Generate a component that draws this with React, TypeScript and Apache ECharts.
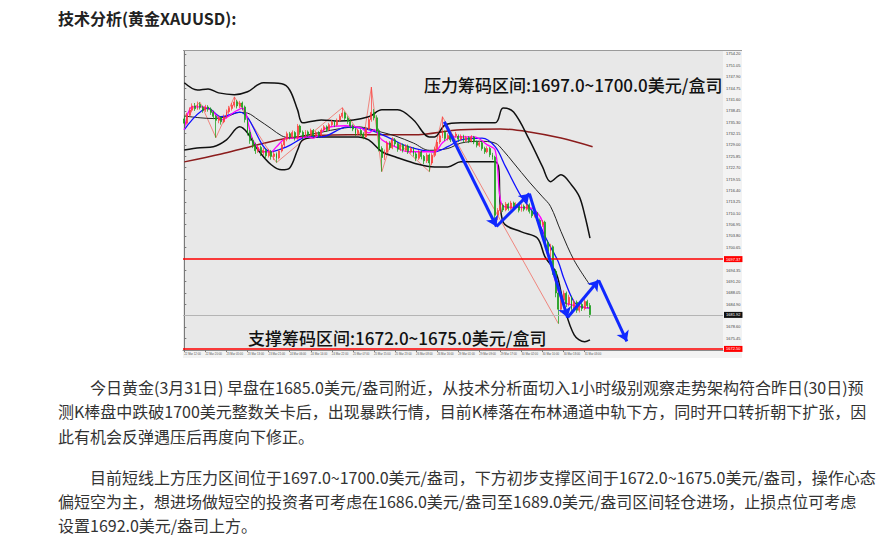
import React, { useEffect, useRef } from "react";
import * as echarts from "echarts";

// ---------- page texts ----------
const pageTitle = "技术分析(黄金XAUUSD):";
const resistanceNote = "压力筹码区间:1697.0~1700.0美元/盒司";
const supportNote = "支撑筹码区间:1672.0~1675.0美元/盒司";
const paragraphOne = [
  "今日黄金(3月31日) 早盘在1685.0美元/盎司附近，从技术分析面切入1小时级别观察走势架构符合昨日(30日)预",
  "测K棒盘中跌破1700美元整数关卡后，出现暴跌行情，目前K棒落在布林通道中轨下方，同时开口转折朝下扩张，因",
  "此有机会反弹遇压后再度向下修正。",
];
const paragraphTwo = [
  "目前短线上方压力区间位于1697.0~1700.0美元/盎司，下方初步支撑区间于1672.0~1675.0美元/盎司，操作心态",
  "偏短空为主，想进场做短空的投资者可考虑在1686.0美元/盎司至1689.0美元/盎司区间轻仓进场，止损点位可考虑",
  "设置1692.0美元/盎司上方。",
];

// ---------- axes ----------
const priceTicks = [
  1754.2, 1751.05, 1747.9, 1744.75, 1741.6, 1738.45, 1735.3, 1732.15, 1729.0,
  1725.85, 1722.7, 1719.55, 1716.4, 1713.25, 1710.1, 1706.95, 1703.8, 1700.65,
  1694.35, 1691.2, 1688.05, 1684.9, 1678.6, 1675.45,
];
const timeLabels = [
  "22 Mar 12:00", "22 Mar 20:00", "23 Mar 05:00", "23 Mar 13:00", "23 Mar 21:00",
  "24 Mar 06:00", "24 Mar 14:00", "24 Mar 22:00", "25 Mar 07:00", "25 Mar 15:00",
  "25 Mar 23:00", "26 Mar 08:00", "26 Mar 16:00", "29 Mar 01:00", "29 Mar 09:00",
  "29 Mar 17:00", "30 Mar 02:00", "30 Mar 10:00", "30 Mar 18:00", "31 Mar 03:00",
];
const labelEvery = 8;
const slotCount = 205; // hourly slots incl. empty right margin
const priceMin = 1672.2;
const priceMax = 1755.0;

// ---------- hourly candles [open, close, low, high] ----------
const candles = [
  [1736.2, 1735.0, 1733.6, 1737.0], [1735.0, 1737.2, 1734.6, 1737.9], [1737.2, 1738.6, 1736.8, 1739.4],
  [1738.6, 1739.8, 1738.0, 1740.5], [1739.8, 1739.0, 1738.4, 1740.6], [1739.0, 1740.2, 1738.7, 1741.0],
  [1740.2, 1739.4, 1738.8, 1740.8], [1739.4, 1738.6, 1737.9, 1739.9], [1738.6, 1739.5, 1738.1, 1740.1],
  [1739.5, 1738.9, 1738.2, 1740.0], [1738.9, 1738.0, 1737.3, 1739.4], [1738.0, 1736.9, 1736.1, 1738.5],
  [1736.9, 1735.8, 1731.0, 1737.3], [1735.8, 1736.5, 1735.0, 1737.1], [1736.5, 1735.4, 1734.6, 1736.9],
  [1735.4, 1736.8, 1735.0, 1737.4], [1736.8, 1738.2, 1736.3, 1738.8], [1738.2, 1739.1, 1737.6, 1739.8],
  [1739.1, 1740.0, 1738.5, 1740.6], [1740.0, 1740.9, 1739.4, 1742.3], [1740.9, 1739.8, 1739.1, 1741.4],
  [1739.8, 1740.6, 1739.2, 1741.2], [1740.6, 1739.5, 1738.6, 1741.0], [1739.5, 1736.0, 1735.2, 1739.9],
  [1736.0, 1732.5, 1731.6, 1736.4], [1732.5, 1730.2, 1729.3, 1733.1], [1730.2, 1729.0, 1728.1, 1731.0],
  [1729.0, 1727.4, 1726.5, 1729.6], [1727.4, 1728.3, 1726.8, 1729.0], [1728.3, 1726.8, 1725.9, 1728.8],
  [1726.8, 1727.5, 1726.1, 1728.2], [1727.5, 1726.0, 1725.2, 1728.0], [1726.0, 1727.2, 1725.5, 1727.9],
  [1727.2, 1725.8, 1724.9, 1727.6], [1725.8, 1726.5, 1724.8, 1727.1], [1726.5, 1725.4, 1724.1, 1726.9],
  [1725.4, 1727.3, 1725.0, 1727.8], [1727.3, 1729.0, 1726.9, 1729.6], [1729.0, 1730.6, 1728.4, 1731.2],
  [1730.6, 1732.1, 1730.0, 1732.7], [1732.1, 1731.2, 1730.5, 1732.6], [1731.2, 1732.4, 1730.8, 1733.0],
  [1732.4, 1731.0, 1730.2, 1732.8], [1731.0, 1734.2, 1730.4, 1734.8], [1734.2, 1732.5, 1731.8, 1734.6],
  [1732.5, 1731.4, 1730.7, 1733.0], [1731.4, 1732.6, 1731.0, 1733.1], [1732.6, 1731.8, 1731.2, 1733.0],
  [1731.8, 1733.0, 1731.3, 1733.5], [1733.0, 1731.6, 1731.0, 1733.4], [1731.6, 1732.4, 1731.1, 1732.9],
  [1732.4, 1731.7, 1731.0, 1732.8], [1731.7, 1733.1, 1731.4, 1733.6], [1733.1, 1734.0, 1732.7, 1734.5],
  [1734.0, 1733.2, 1732.6, 1734.4], [1733.2, 1734.6, 1732.9, 1735.1], [1734.6, 1735.3, 1734.1, 1735.9],
  [1735.3, 1734.5, 1733.9, 1735.8], [1734.5, 1735.8, 1734.2, 1736.3], [1735.8, 1736.9, 1735.4, 1737.5],
  [1736.9, 1737.8, 1736.4, 1739.3], [1737.8, 1736.4, 1735.9, 1738.2], [1736.4, 1735.5, 1734.8, 1736.9],
  [1735.5, 1734.2, 1733.6, 1735.9], [1734.2, 1733.4, 1732.8, 1734.7], [1733.4, 1732.1, 1731.5, 1733.8],
  [1732.1, 1733.0, 1731.7, 1733.5], [1733.0, 1732.0, 1731.5, 1733.4], [1732.0, 1731.2, 1730.6, 1732.5],
  [1731.2, 1733.5, 1730.9, 1734.0], [1733.5, 1736.0, 1733.1, 1736.7], [1736.0, 1738.0, 1735.4, 1745.0],
  [1738.0, 1736.5, 1735.8, 1738.9], [1736.5, 1733.0, 1732.4, 1737.2], [1733.0, 1728.0, 1727.2, 1733.5],
  [1728.0, 1725.5, 1721.6, 1728.6], [1725.5, 1727.0, 1724.8, 1727.7], [1727.0, 1729.5, 1726.5, 1730.1],
  [1729.5, 1728.2, 1727.6, 1730.0], [1728.2, 1730.4, 1727.8, 1731.0], [1730.4, 1729.3, 1728.6, 1730.9],
  [1729.3, 1727.8, 1727.1, 1729.8], [1727.8, 1729.0, 1727.3, 1729.6], [1729.0, 1727.6, 1726.9, 1729.4],
  [1727.6, 1728.7, 1727.1, 1729.2], [1728.7, 1727.2, 1726.5, 1729.1], [1727.2, 1728.0, 1726.6, 1728.6],
  [1728.0, 1726.5, 1725.8, 1728.4], [1726.5, 1725.3, 1724.5, 1727.0], [1725.3, 1727.0, 1724.8, 1727.6],
  [1727.0, 1725.8, 1725.0, 1727.5], [1725.8, 1724.6, 1723.7, 1726.2], [1724.6, 1726.2, 1724.0, 1726.8],
  [1726.2, 1724.0, 1721.6, 1726.6], [1724.0, 1726.1, 1723.5, 1726.7], [1726.1, 1727.9, 1725.6, 1728.5],
  [1727.9, 1729.8, 1727.4, 1730.4], [1729.8, 1731.5, 1729.2, 1732.2], [1731.5, 1732.5, 1730.9, 1736.8],
  [1732.5, 1730.8, 1730.1, 1733.0], [1730.8, 1731.6, 1730.2, 1732.2], [1731.6, 1730.4, 1729.8, 1732.0],
  [1730.4, 1731.5, 1730.0, 1732.0], [1731.5, 1732.0, 1731.0, 1732.6], [1731.4, 1730.6, 1729.8, 1731.9],
  [1730.6, 1731.4, 1730.1, 1731.9], [1731.4, 1730.2, 1729.6, 1731.8], [1730.2, 1731.0, 1729.8, 1731.5],
  [1731.0, 1730.1, 1729.5, 1731.4], [1730.1, 1731.2, 1729.7, 1731.7], [1731.2, 1729.8, 1729.2, 1731.5],
  [1729.8, 1728.9, 1728.3, 1730.2], [1728.9, 1729.6, 1728.4, 1730.1], [1729.6, 1728.0, 1727.4, 1730.0],
  [1728.0, 1727.1, 1726.5, 1728.5], [1727.1, 1728.0, 1726.7, 1728.6], [1728.0, 1726.3, 1725.6, 1728.4],
  [1726.3, 1725.6, 1724.9, 1726.8], [1725.6, 1709.5, 1707.5, 1726.0], [1709.5, 1710.8, 1708.2, 1711.5],
  [1710.8, 1712.3, 1710.2, 1713.0], [1712.3, 1711.0, 1710.4, 1712.8], [1711.0, 1712.6, 1710.6, 1713.2],
  [1712.6, 1711.4, 1710.8, 1713.0], [1711.4, 1712.9, 1711.0, 1713.5], [1712.9, 1711.8, 1711.2, 1713.3],
  [1711.8, 1712.5, 1711.3, 1713.1], [1712.5, 1710.9, 1710.3, 1712.9], [1710.9, 1712.0, 1710.5, 1712.6],
  [1712.0, 1711.2, 1710.6, 1712.5], [1711.2, 1712.4, 1710.8, 1712.9], [1712.4, 1710.6, 1710.0, 1712.8],
  [1710.6, 1709.4, 1708.8, 1711.0], [1709.4, 1710.0, 1708.9, 1710.6], [1710.0, 1708.1, 1707.4, 1710.4],
  [1708.1, 1706.9, 1706.2, 1708.6], [1706.9, 1707.6, 1706.3, 1708.2], [1707.6, 1702.0, 1701.2, 1708.0],
  [1702.0, 1699.5, 1698.4, 1702.6], [1699.5, 1700.8, 1697.9, 1701.6], [1700.8, 1694.0, 1693.0, 1701.2],
  [1694.0, 1688.0, 1686.8, 1694.6], [1688.0, 1683.5, 1679.5, 1688.9], [1683.5, 1686.0, 1682.6, 1686.9],
  [1686.0, 1687.9, 1685.2, 1688.7], [1687.9, 1685.0, 1684.1, 1688.4], [1685.0, 1686.8, 1684.3, 1687.5],
  [1686.8, 1683.6, 1682.8, 1687.2], [1683.6, 1685.4, 1683.0, 1686.2], [1685.4, 1683.2, 1682.5, 1685.9],
  [1683.2, 1684.8, 1682.6, 1685.5], [1684.8, 1683.7, 1683.0, 1685.3], [1683.7, 1685.6, 1683.2, 1686.3],
  [1685.6, 1684.5, 1683.8, 1686.1], [1684.5, 1682.0, 1681.2, 1685.2],
];

// ---------- indicators, read at [bar index, price] ----------
const bollUpper = [
  [0, 1746.2], [5, 1744.2], [9, 1744.5], [13, 1743.4], [19, 1742.9], [24, 1743.7], [30, 1746.2],
  [37, 1745.9], [40, 1744.2], [43, 1738.7], [45, 1735.1], [52, 1735.9], [59, 1735.6], [70, 1736.8],
  [75, 1738.7], [81, 1738.7], [87, 1735.9], [93, 1731.2], [95, 1731.2], [99, 1734.5], [105, 1735.1],
  [118, 1735.1], [121, 1739.2], [125, 1738.1], [131, 1730.4], [136, 1722.9], [139, 1718.8],
  [143, 1720.7], [147, 1717.9], [150, 1714.6], [152, 1709.6], [154, 1703.2],
];
const bollMiddle = [
  [0, 1737.0], [6, 1736.5], [11, 1736.3], [16, 1736.8], [21, 1738.0], [24, 1737.8], [28, 1736.0],
  [33, 1733.5], [37, 1731.5], [40, 1731.0], [45, 1731.5], [52, 1732.5], [59, 1733.5], [66, 1734.0],
  [70, 1733.5], [75, 1732.5], [80, 1731.5], [87, 1729.5], [93, 1727.5], [100, 1728.0], [105, 1729.5],
  [112, 1730.0], [118, 1729.5], [121, 1727.5], [125, 1724.0], [131, 1718.7], [136, 1714.6],
  [139, 1712.0], [143, 1705.0], [148, 1697.0], [154, 1690.2],
];
const bollLower = [
  [0, 1727.6], [6, 1728.2], [11, 1728.5], [16, 1730.4], [21, 1734.0], [24, 1732.3], [28, 1727.6],
  [33, 1723.5], [37, 1722.1], [40, 1722.6], [43, 1727.6], [45, 1730.4], [52, 1731.2], [59, 1731.2],
  [66, 1731.2], [70, 1730.4], [75, 1727.1], [80, 1725.7], [87, 1724.0], [95, 1722.9], [100, 1722.9],
  [105, 1724.3], [118, 1724.3], [121, 1707.7], [128, 1704.9], [134, 1703.2], [137, 1697.9],
  [141, 1693.8], [143, 1688.3], [144, 1684.7], [148, 1676.4], [152, 1674.5], [154, 1675.0],
];
const maBlue = [
  [0, 1733.2], [9, 1739.2], [14, 1736.8], [21, 1738.1], [33, 1727.1], [39, 1728.5], [47, 1731.2],
  [52, 1731.2], [62, 1734.0], [70, 1733.2], [77, 1731.2], [85, 1728.5], [95, 1727.1], [100, 1728.5],
  [105, 1730.4], [113, 1730.9], [118, 1728.5], [122, 1722.9], [128, 1714.6], [133, 1709.6],
  [138, 1702.1], [142, 1696.6], [144, 1692.2], [148, 1685.5], [151, 1684.1], [154, 1683.9],
];
const maMagenta = [
  [0, 1733.2], [3, 1739.5], [7, 1739.5], [11, 1738.1], [14, 1735.9], [19, 1738.1], [22, 1739.2],
  [26, 1730.4], [30, 1727.1], [33, 1727.1], [35, 1728.5], [39, 1730.9], [42, 1730.9], [47, 1731.2],
  [49, 1730.9], [54, 1733.7], [61, 1734.3], [67, 1733.7], [70, 1732.3], [72, 1733.2], [75, 1730.4],
  [80, 1728.5], [85, 1727.1], [95, 1727.1], [98, 1729.6], [102, 1731.2], [110, 1731.2], [115, 1729.0],
  [118, 1727.6], [120, 1713.8], [122, 1711.8], [131, 1711.6], [136, 1707.7], [137, 1701.3],
  [140, 1693.8], [142, 1688.3], [144, 1685.5], [147, 1684.7], [151, 1684.1], [154, 1683.9],
];
const maLong = [
  [0, 1724.3], [14, 1726.5], [25, 1728.5], [40, 1730.9], [62, 1731.8], [87, 1731.8], [105, 1733.2],
  [120, 1733.4], [131, 1732.6], [143, 1730.9], [155, 1728.5],
];
const zigzag = [
  [0, 1737.0], [6, 1740.8], [12, 1731.0], [19, 1742.3], [35, 1724.1], [60, 1739.3], [68, 1730.6],
  [71, 1745.0], [75, 1721.6], [79, 1731.0], [93, 1721.6], [98, 1736.8], [142, 1679.5],
];
const arrowPath = [
  [98.7, 1735.4], [118.5, 1706.4], [131, 1715.5], [145.5, 1681.2], [157.3, 1691.5], [168, 1674.6],
];
const resistanceLevel = 1697.37;
const supportLevel = 1672.5;
const bidLevel = 1681.92;

const CJK = '"Noto Sans CJK SC", "Noto Sans", sans-serif';
const MT4 = '"Liberation Sans", "DejaVu Sans", sans-serif';

function buildOption() {
  const isLabelSlot = (i: number) => i % labelEvery === 0 && i / labelEvery < timeLabels.length;
  const segments = arrowPath.slice(1).map((p, i) => ({ coords: [arrowPath[i], p] }));
  const curve = (data: number[][], color: string, width: number, smooth: number | boolean = 0.35) => ({
    type: "line",
    xAxisIndex: 1,
    yAxisIndex: 0,
    data,
    smooth,
    showSymbol: false,
    symbol: "none",
    silent: true,
    lineStyle: { color, width },
    z: 3,
  });
  const lineText = (text: string, x: number, y: number, size: number, weight: string | number = "normal", fill = "#333") => ({
    type: "text",
    x,
    y,
    z: 100,
    silent: true,
    style: { text, fill, fontSize: size, fontFamily: CJK, fontWeight: weight, verticalAlign: "middle", align: "left" },
  });
  const mlLabel = (text: string, bg: string) => ({
    show: true,
    position: "end",
    formatter: text,
    distance: 1,
    fontSize: 4,
    fontFamily: MT4,
    color: "#fff",
    backgroundColor: bg,
    padding: [1, 2],
  });

  return {
    animation: false,
    backgroundColor: "#ffffff",
    textStyle: { fontFamily: CJK },
    grid: {
      left: 183,
      top: 51,
      width: 540,
      height: 299,
      show: true,
      backgroundColor: "#e8e8e8",
      borderWidth: 0,
    },
    xAxis: [
      {
        type: "category",
        data: Array.from({ length: slotCount }, (_, i) => String(i)),
        boundaryGap: true,
        axisLine: { show: true, lineStyle: { color: "#8a8a8a", width: 1 } },
        axisTick: { show: true, length: 2, interval: isLabelSlot, alignWithLabel: true, lineStyle: { color: "#777" } },
        axisLabel: {
          interval: isLabelSlot,
          formatter: (_v: string, i: number) => timeLabels[i / labelEvery] ?? "",
          fontSize: 2.8,
          fontFamily: MT4,
          color: "#555",
          align: "left",
          margin: 2,
        },
        splitLine: { show: false },
      },
      { type: "value", min: -0.5, max: slotCount - 0.5, show: false },
    ],
    yAxis: {
      type: "value",
      position: "right",
      min: priceMin,
      max: priceMax,
      axisLine: { show: true, lineStyle: { color: "#7a7a7a", width: 1 } },
      axisTick: { show: true, length: 2, customValues: priceTicks, lineStyle: { color: "#777" } },
      axisLabel: {
        customValues: priceTicks,
        formatter: (v: number) => v.toFixed(2),
        fontSize: 4,
        fontFamily: MT4,
        color: "#444",
        margin: 3,
      },
      splitLine: { show: false },
    },
    graphic: [
      { type: "rect", z: -5, silent: true, shape: { x: 183, y: 50, width: 559, height: 308 }, style: { fill: "#f3f3f3" } },
      { type: "line", z: 1, silent: true, shape: { x1: 183, y1: 50.5, x2: 742, y2: 50.5 }, style: { stroke: "#9a9a9a", lineWidth: 1 } },
      lineText(pageTitle, 58, 18, 16, "bold", "#222"),
      lineText(resistanceNote, 424, 84, 17, 500, "#111"),
      lineText(supportNote, 248, 337, 17, 500, "#111"),
      lineText(paragraphOne[0], 90, 387, 16),
      lineText(paragraphOne[1], 58, 411, 16),
      lineText(paragraphOne[2], 58, 436, 16),
      lineText(paragraphTwo[0], 90, 477, 16),
      lineText(paragraphTwo[1], 58, 501, 16),
      lineText(paragraphTwo[2], 58, 525, 16),
    ],
    series: [
      curve(maLong, "#8b1c1c", 1.5),
      curve(zigzag, "rgba(240,110,100,0.9)", 0.9, false),
      curve(bollUpper, "#111111", 1.5),
      curve(bollMiddle, "#222222", 1),
      curve(bollLower, "#111111", 1.5),
      {
        type: "candlestick",
        xAxisIndex: 0,
        yAxisIndex: 0,
        data: candles,
        barWidth: 1.4,
        silent: true,
        itemStyle: {
          color: "#ff1a1a",
          color0: "#119a11",
          borderColor: "#ff3b3b",
          borderColor0: "#119a11",
          borderWidth: 0.8,
          opacity: 0.9,
        },
        z: 4,
        markLine: {
          silent: true,
          symbol: "none",
          animation: false,
          data: [
            { yAxis: resistanceLevel, lineStyle: { color: "#ff0000", width: 1.6, type: "solid" }, label: mlLabel(resistanceLevel.toFixed(2), "#ff0000") },
            { yAxis: supportLevel, lineStyle: { color: "#ff0000", width: 1.6, type: "solid" }, label: mlLabel(supportLevel.toFixed(2), "#ff0000") },
            { yAxis: bidLevel, lineStyle: { color: "#b4b4b4", width: 1, type: "solid" }, label: mlLabel(bidLevel.toFixed(2), "#111111") },
          ],
        },
      },
      curve(maBlue, "#1010ff", 1.3),
      curve(maMagenta, "#ff00ff", 1.3),
      {
        type: "lines",
        coordinateSystem: "cartesian2d",
        xAxisIndex: 1,
        yAxisIndex: 0,
        silent: true,
        symbol: ["none", "arrow"],
        symbolSize: [1, 10],
        lineStyle: { color: "#1028ff", width: 3, opacity: 1 },
        data: segments,
        z: 6,
      },
    ],
  };
}

export default function App() {
  const ref = useRef<HTMLDivElement>(null);
  useEffect(() => {
    if (!ref.current) return;
    const chart = echarts.init(ref.current, null, { renderer: "svg" });
    chart.setOption(buildOption() as any);
    return () => chart.dispose();
  }, []);
  return (
    <div
      ref={ref}
      style={{ position: "absolute", left: 0, top: 0, width: 896, height: 539, background: "#fff" }}
    />
  );
}
